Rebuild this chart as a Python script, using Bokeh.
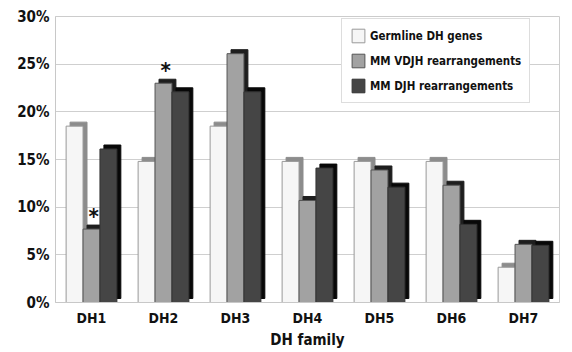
from bokeh.plotting import figure
from bokeh.models import ColumnDataSource, Legend, LegendItem, Range1d, FactorRange, FixedTicker
from bokeh.transform import dodge
from bokeh.core.properties import value
from bokeh.embed import file_html
from bokeh.resources import INLINE

families = ["DH1", "DH2", "DH3", "DH4", "DH5", "DH6", "DH7"]
germline = [18.5, 14.8, 18.5, 14.8, 14.8, 14.8, 3.7]
vdjh = [7.7, 23.0, 26.1, 10.7, 13.9, 12.3, 6.1]
djh = [16.1, 22.1, 22.1, 14.1, 12.1, 8.2, 6.0]
series_names = ["Germline DH genes", "MM VDJH rearrangements", "MM DJH rearrangements"]
y_ticks = [0, 5, 10, 15, 20, 25, 30]
y_tick_labels = ["0%", "5%", "10%", "15%", "20%", "25%", "30%"]
starred = ["DH1", "DH2"]

FONT = "DejaVu Sans Condensed"
DEPTH = 0.42

p = figure(width=564, height=352, output_backend="svg", toolbar_location=None,
           x_range=FactorRange(*families, range_padding=0), y_range=Range1d(0, 30),
           min_border_left=55, min_border_right=5, min_border_top=16, min_border_bottom=50)
p.outline_line_color = "#cccccc"
p.background_fill_color = "white"

src = ColumnDataSource(dict(
    fam=families,
    g=germline, v=vdjh, d=djh,
    gd=[x + DEPTH for x in germline], vd=[x + DEPTH for x in vdjh], dd=[x + DEPTH for x in djh],
))

width = 0.235
offsets = [-0.235, 0.0, 0.235]
fronts = ["#f6f6f6", "#a2a2a2", "#454545"]
depths = ["#8c8c8c", "#1e1e1e", "#080808"]
outlines = ["#999999", "#555555", "#333333"]
fields = [("g", "gd"), ("v", "vd"), ("d", "dd")]
renderers = []
for off, fc, dc, oc, (f, fd) in zip(offsets, fronts, depths, outlines, fields):
    p.vbar(x=dodge("fam", off + 0.055, range=p.x_range), top=fd, bottom=DEPTH, width=width,
           source=src, fill_color=dc, line_color=dc, line_width=1)
    r = p.vbar(x=dodge("fam", off, range=p.x_range), top=f, bottom=0, width=width,
               source=src, fill_color=fc, line_color=oc, line_width=1)
    renderers.append(r)

star_src = ColumnDataSource(dict(
    fam=starred,
    y=[vdjh[families.index(s)] for s in starred],
    t=["*"] * len(starred),
))
p.text(x=dodge("fam", 0.03, range=p.x_range), y="y", text="t", source=star_src,
       text_font=value(FONT), text_font_style="bold", text_font_size="22px",
       text_align="center", text_baseline="middle", y_offset=-13, text_color="#111111")

legend = Legend(items=[LegendItem(label=n, renderers=[r]) for n, r in zip(series_names, renderers)],
                location=(286, 199))
legend.label_text_font = FONT
legend.label_text_font_style = "bold"
legend.label_text_font_size = "11.5px"
legend.label_text_color = "#111111"
legend.glyph_width = 16
legend.glyph_height = 17
legend.spacing = 8
legend.padding = 8
legend.label_standoff = 4
legend.border_line_color = "#bbbbbb"
legend.background_fill_alpha = 1
p.add_layout(legend)

p.yaxis.ticker = FixedTicker(ticks=y_ticks)
p.yaxis.major_label_overrides = {t: l for t, l in zip(y_ticks, y_tick_labels)}
for ax in (p.xaxis, p.yaxis):
    ax.major_label_text_font = FONT
    ax.major_label_text_font_style = "bold"
    ax.major_label_text_color = "#111111"
    ax.axis_line_color = "#c8c8c8"
    ax.major_tick_line_color = None
    ax.minor_tick_line_color = None
    ax.major_tick_out = 0
    ax.major_tick_in = 0
    ax.minor_tick_out = 0
    ax.minor_tick_in = 0
p.yaxis.major_label_text_font_size = "15px"
p.yaxis.major_label_standoff = 6
p.xaxis.major_label_text_font_size = "14px"
p.xaxis.major_label_standoff = 7
p.xaxis.axis_label = "DH family"
p.xaxis.axis_label_text_font = FONT
p.xaxis.axis_label_text_font_style = "bold"
p.xaxis.axis_label_text_font_size = "15px"
p.xaxis.axis_label_text_color = "#111111"
p.xaxis.axis_label_standoff = 2
p.xgrid.grid_line_color = None
p.ygrid.grid_line_color = "#cfcfcf"
p.ygrid.ticker = FixedTicker(ticks=y_ticks)

open("out.html", "w").write(file_html(p, INLINE))
